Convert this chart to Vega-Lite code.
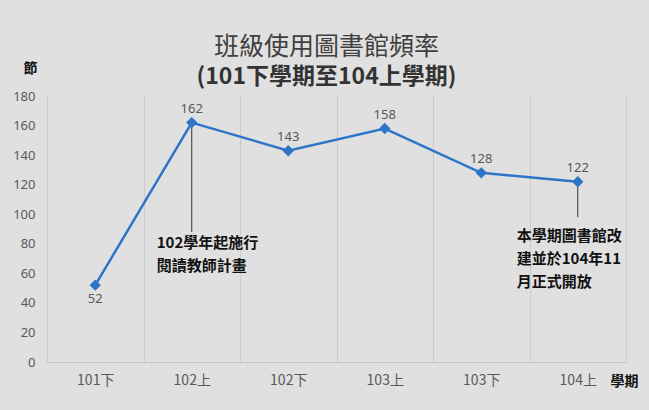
{
  "$schema": "https://vega.github.io/schema/vega-lite/v6.json",
  "width": 579,
  "height": 266,
  "autosize": "none",
  "padding": {"left": 47, "top": 96, "right": 23, "bottom": 48},
  "background": "#e0e0e0",
  "config": {
    "view": {"stroke": null},
    "font": "Noto Sans CJK TC"
  },
  "title": {
    "text": "班級使用圖書館頻率",
    "subtitle": "(101下學期至104上學期)",
    "anchor": "middle",
    "frame": "group",
    "dx": -10,
    "offset": -28,
    "font": "Noto Sans CJK TC",
    "fontSize": 25,
    "fontWeight": "normal",
    "color": "#404040",
    "subtitleFont": "Noto Sans CJK TC",
    "subtitleFontSize": 23,
    "subtitleFontWeight": "bold",
    "subtitleColor": "#333333",
    "subtitlePadding": 6
  },
  "datasets": {
    "main": [
      {"semester": "101下", "value": 52, "labelPos": "below"},
      {"semester": "102上", "value": 162, "labelPos": "above"},
      {"semester": "102下", "value": 143, "labelPos": "above"},
      {"semester": "103上", "value": 158, "labelPos": "above"},
      {"semester": "103下", "value": 128, "labelPos": "above"},
      {"semester": "104上", "value": 122, "labelPos": "above"}
    ],
    "notes": [
      {"semester": "102上", "from": 162, "to": 88, "textAt": 85, "note": "102學年起施行\n閱讀教師計畫", "id": "a"},
      {"semester": "104上", "from": 122, "to": 98, "textAt": 90, "note": "本學期圖書館改\n建並於104年11\n月正式開放", "id": "b"}
    ]
  },
  "encoding": {
    "x": {
      "field": "semester",
      "type": "nominal",
      "sort": null,
      "scale": {"type": "band", "domain": ["101下", "102上", "102下", "103上", "103下", "104上"], "paddingInner": 0, "paddingOuter": 0},
      "axis": {
        "title": "學期",
        "titleX": 577,
        "titleY": 19,
        "titleBaseline": "middle",
        "titleAlign": "center",
        "titleFontSize": 14,
        "titleFontWeight": "bold",
        "titleColor": "#111111",
        "labelAngle": 0,
        "labelFontSize": 14,
        "labelColor": "#595959",
        "labelPadding": 11,
        "ticks": false,
        "domainColor": "#c4c4c4",
        "grid": true,
        "gridColor": "#cccccc",
        "tickBand": "extent"
      }
    },
    "y": {
      "field": "value",
      "type": "quantitative",
      "scale": {"domain": [0, 180]},
      "axis": {
        "values": [0, 20, 40, 60, 80, 100, 120, 140, 160, 180],
        "title": "節",
        "titleAngle": 0,
        "titleX": -17,
        "titleY": -28,
        "titleAlign": "center",
        "titleBaseline": "middle",
        "titleFontSize": 14,
        "titleFontWeight": "bold",
        "titleColor": "#111111",
        "labelFontSize": 13,
        "labelColor": "#595959",
        "labelPadding": 12,
        "labelFont": "Noto Sans",
        "ticks": false,
        "domain": false,
        "grid": false
      }
    }
  },
  "layer": [
    {
      "data": {"name": "notes"},
      "mark": {"type": "rule", "color": "#333333", "strokeWidth": 1},
      "encoding": {
        "y": {"field": "from", "type": "quantitative"},
        "y2": {"field": "to"}
      }
    },
    {
      "data": {"name": "main"},
      "mark": {"type": "line", "color": "#2e75c8", "strokeWidth": 2.5},
      "encoding": {}
    },
    {
      "data": {"name": "main"},
      "mark": {"type": "point", "shape": "diamond", "filled": true, "color": "#2e75c8", "size": 130, "opacity": 1},
      "encoding": {}
    },
    {
      "data": {"name": "main"},
      "transform": [{"filter": "datum.labelPos === 'above'"}],
      "mark": {"type": "text", "dy": -14, "fontSize": 13, "color": "#595959", "font": "Noto Sans"},
      "encoding": {"text": {"field": "value", "type": "quantitative"}}
    },
    {
      "data": {"name": "main"},
      "transform": [{"filter": "datum.labelPos === 'below'"}],
      "mark": {"type": "text", "dy": 14, "fontSize": 13, "color": "#595959", "font": "Noto Sans"},
      "encoding": {"text": {"field": "value", "type": "quantitative"}}
    },
    {
      "data": {"name": "notes"},
      "transform": [{"filter": "datum.id === 'a'"}],
      "mark": {"type": "text", "align": "left", "baseline": "top", "dx": -35, "lineBreak": "\n", "lineHeight": 23, "fontSize": 15, "fontWeight": "bold", "color": "#111111"},
      "encoding": {
        "y": {"field": "textAt", "type": "quantitative"},
        "text": {"field": "note"}
      }
    },
    {
      "data": {"name": "notes"},
      "transform": [{"filter": "datum.id === 'b'"}],
      "mark": {"type": "text", "align": "left", "baseline": "top", "dx": -61, "lineBreak": "\n", "lineHeight": 23, "fontSize": 15, "fontWeight": "bold", "color": "#111111"},
      "encoding": {
        "y": {"field": "textAt", "type": "quantitative"},
        "text": {"field": "note"}
      }
    }
  ]
}
